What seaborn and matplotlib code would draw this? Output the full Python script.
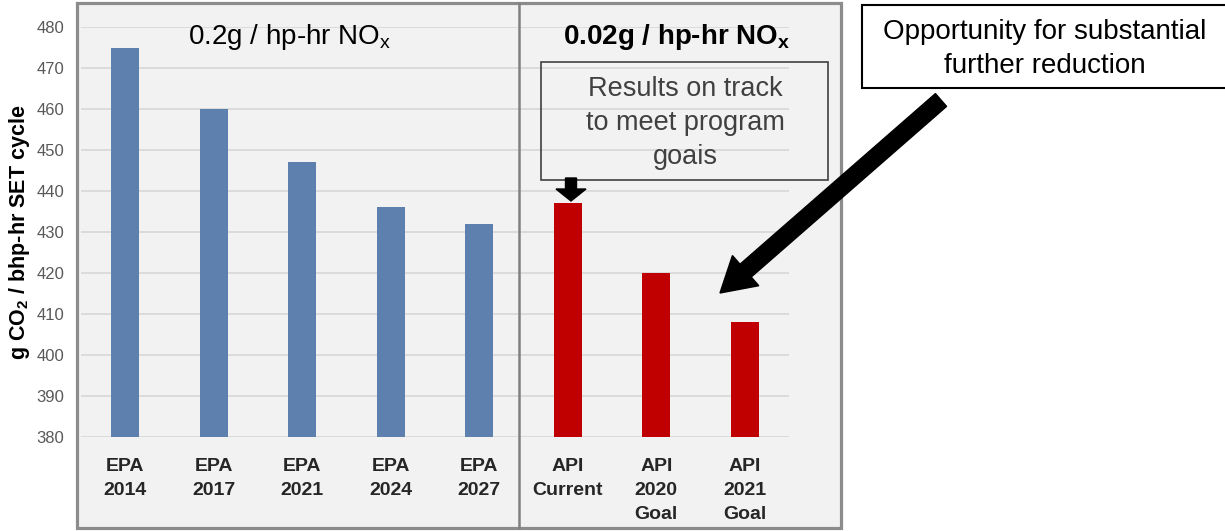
import matplotlib
matplotlib.use("Agg")
import matplotlib.pyplot as plt
import matplotlib.transforms as mtransforms
from matplotlib.patches import Rectangle, FancyArrow
from matplotlib.lines import Line2D
import seaborn as sns
import pandas as pd

# ---- data ----
categories = ["EPA\n2014", "EPA\n2017", "EPA\n2021", "EPA\n2024", "EPA\n2027",
              "API\nCurrent", "API\n2020\nGoal", "API\n2021\nGoal"]
values = [475, 460, 447, 436, 432, 437, 420, 408]
groups = ["EPA", "EPA", "EPA", "EPA", "EPA", "API", "API", "API"]
yticks = [380, 390, 400, 410, 420, 430, 440, 450, 460, 470, 480]
group_colors = {"EPA": "#5E80AE", "API": "#C00000"}

sns.set_style("white")
plt.rcParams['font.family'] = ['Liberation Sans', 'DejaVu Sans']
plt.rcParams['mathtext.fontset'] = 'custom'
plt.rcParams['mathtext.rm'] = 'Liberation Sans'
plt.rcParams['mathtext.it'] = 'Liberation Sans'
plt.rcParams['mathtext.bf'] = 'Liberation Sans:bold'

W, H = 1225, 531
fig = plt.figure(figsize=(W / 100, H / 100), dpi=100)
fig.patch.set_facecolor("white")
# pixel transform (origin top-left)
px = mtransforms.Affine2D().scale(1 / W, -1 / H).translate(0, 1) + fig.transFigure

# background panel
fig.add_artist(Rectangle((77, 3), 764, 525, transform=px, facecolor="#F2F2F2",
                         edgecolor="#8C8C8C", lw=2.3, zorder=-2))

ax = fig.add_axes([81 / W, (H - 437) / H, 708 / W, 410 / H])
ax.set_facecolor("none")

df = pd.DataFrame({"cat": categories, "val": values, "grp": groups})
sns.barplot(data=df, x="cat", y="val", hue="grp", palette=group_colors,
            dodge=False, width=0.32, saturation=1, legend=False, ax=ax,
            zorder=3, linewidth=0)

ax.set_ylim(380, 480)
ax.set_xlim(-0.5, 7.5)
ax.set_yticks(yticks)
ax.set_yticklabels([str(t) for t in yticks], color="#595959", fontsize=12)
ax.yaxis.grid(True, color="#D9D9D9", lw=1.3, zorder=0)
ax.set_axisbelow(True)
ax.tick_params(axis="y", length=0, pad=12)
ax.tick_params(axis="x", length=0, pad=15)
for lbl in ax.get_xticklabels():
    lbl.set_fontsize(14)
    lbl.set_fontweight("bold")
    lbl.set_color("#262626")
    lbl.set_linespacing(1.55)
for s in ax.spines.values():
    s.set_visible(False)
ax.set_xlabel("")
ax.set_ylabel(r"g CO$_\mathbf{2}$ / bhp-hr SET cycle", fontsize=15.5,
              fontweight="bold", color="black", labelpad=3)

# divider
fig.add_artist(Line2D([519, 519], [3, 528], transform=px, color="#808080", lw=1.8, zorder=5))

# headings
fig.text(290, 37, r"0.2g / hp-hr NO$_\mathrm{x}$", transform=px, ha="center", va="center",
         fontsize=20, color="black")
fig.text(677, 37, r"0.02g / hp-hr NO$_\mathbf{x}$", transform=px, ha="center", va="center",
         fontsize=20, fontweight="bold", color="black")

# results box
fig.add_artist(Rectangle((541, 62), 287, 118, transform=px, facecolor="none",
                         edgecolor="#404040", lw=1.2, zorder=6))
fig.text(685, 123, "Results on track\nto meet program\ngoais", transform=px,
         ha="center", va="center", multialignment="center", fontsize=19.5,
         color="#404040", linespacing=1.38, zorder=7)

# small arrow
fig.add_artist(FancyArrow(571, 178, 0, 23, width=11, head_width=30, head_length=12,
                          length_includes_head=True, transform=px, color="black", zorder=8))

# opportunity box
fig.add_artist(Rectangle((862, 5), 372, 83, transform=px, facecolor="white",
                         edgecolor="black", lw=1.5, zorder=6))
fig.text(1045, 49, "Opportunity for substantial\nfurther reduction", transform=px,
         ha="center", va="center", multialignment="center", fontsize=20,
         color="black", linespacing=1.4, zorder=7)

# big arrow
fig.add_artist(FancyArrow(941, 100, 720 - 941, 293 - 100, width=17, head_width=40,
                          head_length=34, length_includes_head=True, transform=px,
                          color="black", zorder=8))

fig.savefig("out.png", dpi=100)
